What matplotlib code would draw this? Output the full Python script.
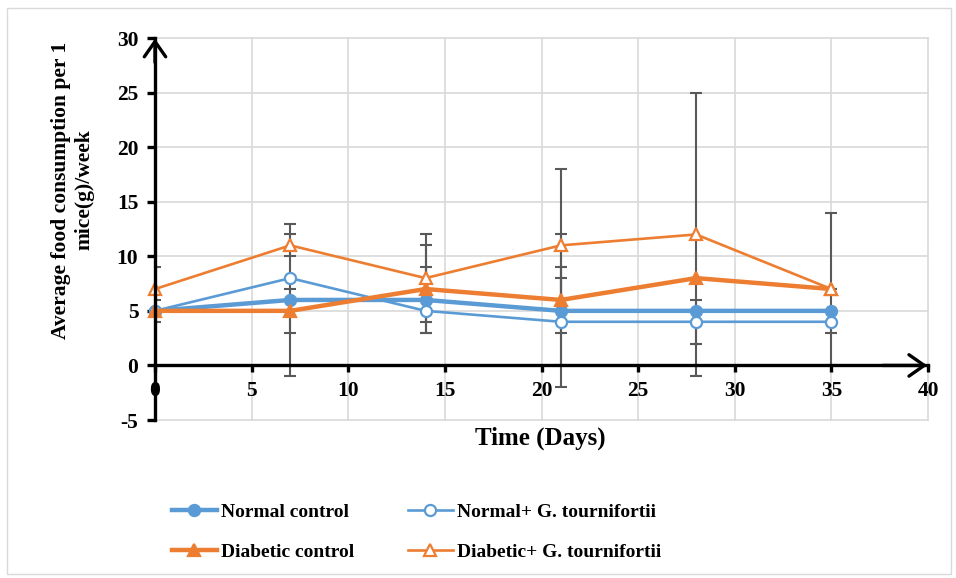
import matplotlib
matplotlib.use("Agg")
import matplotlib.pyplot as plt
from matplotlib.patches import Rectangle

plt.rcParams['font.family'] = ['Liberation Serif', 'DejaVu Serif']
plt.rcParams['font.weight'] = 'bold'

days = [0, 7, 14, 21, 28, 35]
normal_control = [5, 6, 6, 5, 5, 5]
normal_g = [5, 8, 5, 4, 4, 4]
diabetic_control = [5, 5, 7, 6, 8, 7]
diabetic_g = [7, 11, 8, 11, 12, 7]

err_normal_control = [1, 7, 3, 7, 0, 0]
err_normal_g = [0, 0, 0, 4, 2, 1]
err_diabetic_control = [0, 2, 4, 3, 0, 0]
err_diabetic_g = [2, 1, 4, 7, 13, 7]

labels = ["Normal control", "Normal+ G. tournifortii",
          "Diabetic control", "Diabetic+ G. tournifortii"]

x_ticks = [0, 5, 10, 15, 20, 25, 30, 35, 40]
y_ticks = [-5, 0, 5, 10, 15, 20, 25, 30]

BLUE = '#5B9BD5'
ORANGE = '#ED7D31'
GRID = '#d9d9d9'
EBAR = '#595959'

W, H = 956, 578
fig = plt.figure(figsize=(W / 100, H / 100), dpi=100)
fig.patches.append(Rectangle((7 / W, 4 / H), 944 / W, 566 / H, transform=fig.transFigure,
                             fill=False, edgecolor=GRID, lw=1.0))
ax = fig.add_axes([155 / W, 1 - 420 / H, (928 - 155) / W, (420 - 38) / H])
ax.set_xlim(0, 40)
ax.set_ylim(-5, 30)

for y in y_ticks:
    ax.axhline(y, color=GRID, lw=1.2, zorder=0, clip_on=False)
for x in x_ticks[1:]:
    ax.axvline(x, color=GRID, lw=1.2, zorder=0, clip_on=False)

series = [
    (normal_control, err_normal_control, BLUE, 'o', BLUE, 3.2, 8),
    (normal_g, err_normal_g, BLUE, 'o', 'white', 1.9, 8),
    (diabetic_control, err_diabetic_control, ORANGE, '^', ORANGE, 3.2, 9),
    (diabetic_g, err_diabetic_g, ORANGE, '^', 'white', 1.9, 9),
]
handles = []
for (vals, errs, col, mk, fc, lw, ms), lab in zip(series, labels):
    ax.errorbar(days, vals, yerr=errs, fmt='none', ecolor=EBAR, elinewidth=1.5,
                capsize=4.5, capthick=1.5, zorder=2.5)
    h, = ax.plot(days, vals, color=col, lw=lw, marker=mk, markersize=ms,
                 markerfacecolor=fc, markeredgecolor=col, markeredgewidth=1.6,
                 zorder=3, label=lab, clip_on=False)
    handles.append(h)

ax.spines['top'].set_visible(False)
ax.spines['right'].set_visible(False)
ax.spines['bottom'].set_position(('data', 0))
ax.spines['bottom'].set_linewidth(2.4)
ax.spines['left'].set_linewidth(2.4)
ax.spines['bottom'].set_zorder(4)
ax.spines['left'].set_zorder(4)

ax.set_xticks(x_ticks)
ax.set_yticks(y_ticks)
ax.set_xticklabels([str(v) for v in x_ticks])
ax.set_yticklabels([str(v) for v in y_ticks])
ax.tick_params(axis='x', direction='out', length=5, width=2.4, pad=6, labelsize=15.5)
ax.tick_params(axis='y', direction='out', length=6, width=2.4, pad=6, labelsize=15.5)
for t in ax.get_xticklabels() + ax.get_yticklabels():
    t.set_fontweight('bold')

ax.annotate('', xy=(0, 30.2), xytext=(0, 27.5),
            arrowprops=dict(arrowstyle='->,head_length=0.5,head_width=0.35',
                            lw=2.4, color='black', mutation_scale=22),
            annotation_clip=False, zorder=5)
ax.annotate('', xy=(40.1, 0), xytext=(37.5, 0),
            arrowprops=dict(arrowstyle='->,head_length=0.5,head_width=0.35',
                            lw=2.4, color='black', mutation_scale=22),
            annotation_clip=False, zorder=5)

fig.text(540 / W, 1 - 438 / H, "Time (Days)", ha='center', va='center',
         fontsize=18, fontweight='bold')
fig.text(73 / W, 1 - 190 / H, "Average food consumption per 1\nmice(g)/week",
         ha='center', va='center', rotation=90, fontsize=15.5, fontweight='bold',
         multialignment='center', linespacing=1.2)

positions = [(172, 512), (408, 512), (172, 552), (408, 552)]
for h, (px, py) in zip(handles, positions):
    fig.legend(handles=[h], loc='center left', bbox_to_anchor=(px / W, 1 - py / H),
               frameon=False, borderpad=0, borderaxespad=0, handlelength=2.3,
               handletextpad=0.2, prop={'size': 14, 'weight': 'bold'})

fig.savefig('out.png', dpi=100)
